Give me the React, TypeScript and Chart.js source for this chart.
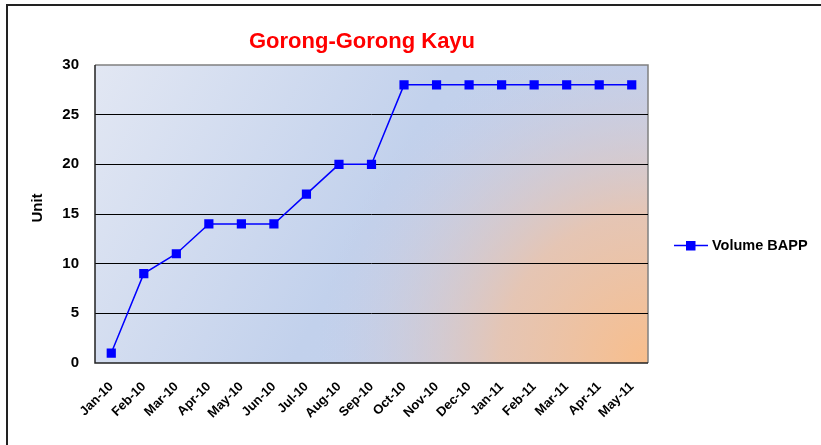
import React, { useEffect, useRef } from "react";
import { Chart, registerables } from "chart.js";

Chart.register(...registerables);

const categories = ["Jan-10","Feb-10","Mar-10","Apr-10","May-10","Jun-10","Jul-10","Aug-10","Sep-10","Oct-10","Nov-10","Dec-10","Jan-11","Feb-11","Mar-11","Apr-11","May-11"];
const volumeBAPP = [1, 9, 11, 14, 14, 14, 17, 20, 20, 28, 28, 28, 28, 28, 28, 28, 28];
const chartTitle = "Gorong-Gorong Kayu";
const seriesName = "Volume BAPP";
const yAxisTitle = "Unit";

const FONT = "Arial, 'Liberation Sans', sans-serif";

const decor = {
  id: "decor",
  beforeDraw(chart: any) {
    const { ctx, chartArea: a } = chart;
    ctx.save();
    ctx.strokeStyle = "#222";
    ctx.lineWidth = 2;
    ctx.strokeRect(7, 5, 900, 600);
    const w = a.right - a.left, h = a.bottom - a.top;
    const lg = ctx.createLinearGradient(a.left, a.top, a.right, a.bottom);
    lg.addColorStop(0, "#e2e7f3");
    lg.addColorStop(0.5, "#c2d1ec");
    lg.addColorStop(1, "#c4d2ee");
    ctx.fillStyle = lg;
    ctx.fillRect(a.left, a.top, w, h);
    const rg = ctx.createRadialGradient(a.right, a.bottom, 0, a.right, a.bottom, 330);
    rg.addColorStop(0, "rgba(248,190,140,1)");
    rg.addColorStop(0.45, "rgba(235,195,170,0.85)");
    rg.addColorStop(1, "rgba(200,200,225,0)");
    ctx.fillStyle = rg;
    ctx.fillRect(a.left, a.top, w, h);
    ctx.strokeStyle = "#808080";
    ctx.lineWidth = 1.5;
    ctx.beginPath();
    ctx.moveTo(a.left, a.top);
    ctx.lineTo(a.right, a.top);
    ctx.lineTo(a.right, a.bottom);
    ctx.stroke();
    ctx.restore();
  },
  afterDraw(chart: any) {
    const { ctx, chartArea: a } = chart;
    ctx.save();
    ctx.strokeStyle = "#222";
    ctx.lineWidth = 1.5;
    ctx.beginPath();
    ctx.moveTo(a.left, a.top);
    ctx.lineTo(a.left, a.bottom);
    ctx.lineTo(a.right, a.bottom);
    ctx.stroke();
    // title
    ctx.fillStyle = "#ff0000";
    ctx.font = `bold 22px ${FONT}`;
    ctx.textAlign = "center";
    ctx.textBaseline = "middle";
    ctx.fillText(chartTitle, 362, 42);
    // y title
    ctx.save();
    ctx.translate(38, 208);
    ctx.rotate(-Math.PI / 2);
    ctx.fillStyle = "#000";
    ctx.font = `bold 15px ${FONT}`;
    ctx.fillText(yAxisTitle, 0, 0);
    ctx.restore();
    // legend
    ctx.strokeStyle = "#0000ff";
    ctx.lineWidth = 1.5;
    ctx.beginPath();
    ctx.moveTo(674, 245.5);
    ctx.lineTo(708, 245.5);
    ctx.stroke();
    ctx.fillStyle = "#0000ff";
    ctx.fillRect(686, 241, 9.5, 9.5);
    ctx.fillStyle = "#000";
    ctx.font = `bold 14.5px ${FONT}`;
    ctx.textAlign = "left";
    ctx.fillText(seriesName, 712, 245.5);
    ctx.restore();
  },
};

export default function App() {
  const ref = useRef<HTMLCanvasElement>(null);
  useEffect(() => {
    document.body.style.margin = "0";
    const chart = new Chart(ref.current!, {
      type: "line",
      data: {
        labels: categories,
        datasets: [
          {
            label: seriesName,
            data: volumeBAPP,
            borderColor: "#0000ff",
            backgroundColor: "#0000ff",
            borderWidth: 1.5,
            pointStyle: "rect",
            pointRadius: 6.5,
            pointBorderWidth: 0,
            tension: 0,
          },
        ],
      },
      options: {
        animation: false,
        responsive: false,
        layout: { padding: { top: 65, right: 173, left: 0, bottom: 0 } },
        plugins: { legend: { display: false }, title: { display: false }, tooltip: { enabled: false } },
        scales: {
          x: {
            offset: true,
            afterFit: (s: any) => { s.height = 82; },
            grid: { display: false, drawTicks: false },
            border: { display: false },
            ticks: {
              maxRotation: 45,
              minRotation: 45,
              autoSkip: false,
              padding: 16,
              color: "#000",
              font: { family: FONT, size: 13, weight: "bold" },
            },
          },
          y: {
            min: 0,
            max: 30,
            afterFit: (s: any) => { s.width = 95; },
            grid: {
              drawTicks: false,
              color: (c: any) => (c.tick && c.tick.value > 0 && c.tick.value < 30 ? "#000" : "rgba(0,0,0,0)"),
              lineWidth: 1,
            },
            border: { display: false },
            ticks: {
              stepSize: 5,
              padding: 16,
              color: "#000",
              font: { family: FONT, size: 15, weight: "bold" },
            },
          },
        },
      },
      plugins: [decor],
    });
    return () => chart.destroy();
  }, []);
  return (
    <div style={{ position: "absolute", left: 0, top: 0, width: 821, height: 445, background: "#fff" }}>
      <canvas ref={ref} width={821} height={445} style={{ width: 821, height: 445 }} />
    </div>
  );
}
